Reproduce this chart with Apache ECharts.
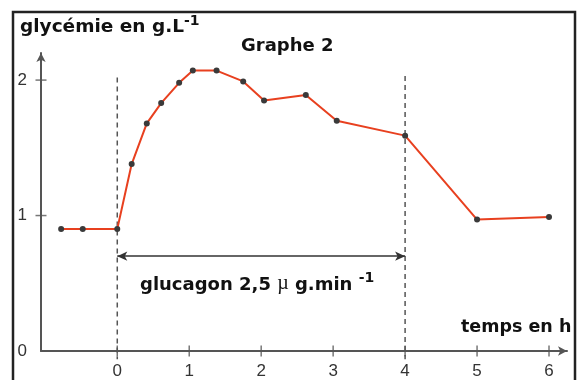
<!DOCTYPE html>
<html><head><meta charset="utf-8">
<script src="https://cdn.jsdelivr.net/npm/echarts@6/dist/echarts.min.js"></script>
<style>html,body{margin:0;padding:0;background:#fff}#c{width:577px;height:380px}</style>
</head><body><div id="c"></div>
<script>
const timeH = [-0.78, -0.48, 0, 0.2, 0.41, 0.61, 0.86, 1.05, 1.38, 1.75, 2.04, 2.62, 3.05, 4, 5, 6];
const glycemie = [0.90, 0.90, 0.90, 1.38, 1.68, 1.83, 1.98, 2.07, 2.07, 1.99, 1.85, 1.89, 1.70, 1.59, 0.97, 0.99];
const xTicks = [0, 1, 2, 3, 4, 5, 6];
const yTicks = [0, 1, 2];
const infusionStart = 0, infusionEnd = 4, infusionArrowY = 0.70;
const xMin = -1.06, xMax = 6.25, yMin = 0, yMax = 2.2;

const chart = echarts.init(document.getElementById('c'), null, {renderer: 'canvas'});
const axisColor = '#555';
const labelFont = {fontFamily: 'Liberation Sans, Arial, sans-serif', fontSize: 17, color: '#333'};
const boldFont = 'DejaVu Sans, sans-serif';
const mainTok = (size) => ({fontFamily: boldFont, fontWeight: 'bold', fontSize: size, fill: '#111', lineHeight: 23, verticalAlign: 'bottom'});
const supTok = {fontFamily: boldFont, fontWeight: 'bold', fontSize: 14, fill: '#111', lineHeight: 14, verticalAlign: 'top'};

chart.setOption({
  animation: false,
  backgroundColor: '#fff',
  grid: {left: 41, right: 10, top: 53, bottom: 28, containLabel: false},
  xAxis: {
    type: 'value', min: xMin, max: xMax,
    splitLine: {show: false},
    axisLine: {show: true, onZero: false, symbol: ['none', 'arrow'], symbolSize: [7, 9], lineStyle: {color: axisColor, width: 2}},
    axisTick: {show: false},
    axisLabel: Object.assign({customValues: xTicks, margin: 12}, labelFont)
  },
  yAxis: {
    type: 'value', min: yMin, max: yMax,
    splitLine: {show: false},
    axisLine: {show: true, onZero: false, symbol: ['none', 'arrow'], symbolSize: [7, 9], lineStyle: {color: axisColor, width: 2}},
    axisTick: {show: false},
    axisLabel: Object.assign({customValues: yTicks, margin: 14}, labelFont)
  },
  series: [
    {
      type: 'line', data: timeH.map((t, i) => [t, glycemie[i]]),
      lineStyle: {color: '#e8401f', width: 2},
      symbol: 'circle', symbolSize: 6,
      itemStyle: {color: '#3a3a3a'},
      z: 5
    },
    {
      type: 'line', data: [[infusionStart, 2.02], [infusionStart, -0.06]],
      symbol: 'none', clip: false,
      lineStyle: {color: '#555', width: 1.5, type: [5, 4]},
      markLine: {
        silent: true, symbol: ['arrow', 'arrow'], symbolSize: [7, 10],
        label: {show: false},
        lineStyle: {color: '#333', width: 1.5, type: 'solid'},
        data: [[{coord: [infusionStart, infusionArrowY]}, {coord: [infusionEnd, infusionArrowY]}]]
      }
    },
    {
      type: 'line', data: [[infusionEnd, 2.03], [infusionEnd, -0.06]],
      symbol: 'none', clip: false,
      lineStyle: {color: '#555', width: 1.5, type: [5, 4]}
    },
    {
      type: 'scatter', clip: false, silent: true,
      data: xTicks.map(v => [v, 0]),
      symbol: 'rect', symbolSize: [1.5, 11],
      itemStyle: {color: axisColor}
    },
    {
      type: 'scatter', clip: false, silent: true,
      data: yTicks.filter(v => v > 0).map(v => [xMin, v]),
      symbol: 'rect', symbolSize: [11, 1.5],
      itemStyle: {color: axisColor}
    }
  ],
  graphic: [
    {type: 'rect', z: 100, shape: {x: 13, y: 12, width: 562, height: 380},
     style: {fill: 'none', stroke: '#222', lineWidth: 2.5}},
    {type: 'text', left: 20, top: 14, z: 100,
     style: {text: '{m|glycémie en g.L}{s|-1}', rich: {m: mainTok(18.5), s: supTok}}},
    {type: 'text', left: 241, top: 37, z: 100,
     style: {text: 'Graphe 2', fontFamily: boldFont, fontWeight: 'bold', fontSize: 18, fill: '#111'}},
    {type: 'text', left: 140, top: 271, z: 100,
     style: {text: '{m|glucagon 2,5 }{u|µ}{m| g.min }{s|-1}', rich: {
       m: mainTok(18),
       u: {fontFamily: 'Liberation Serif, serif', fontSize: 20, fill: '#111', lineHeight: 23, verticalAlign: 'bottom'},
       s: supTok
     }}},
    {type: 'text', left: 461, top: 318, z: 100,
     style: {text: 'temps en h', fontFamily: boldFont, fontWeight: 'bold', fontSize: 17.5, fill: '#111'}}
  ]
});
</script></body></html>
